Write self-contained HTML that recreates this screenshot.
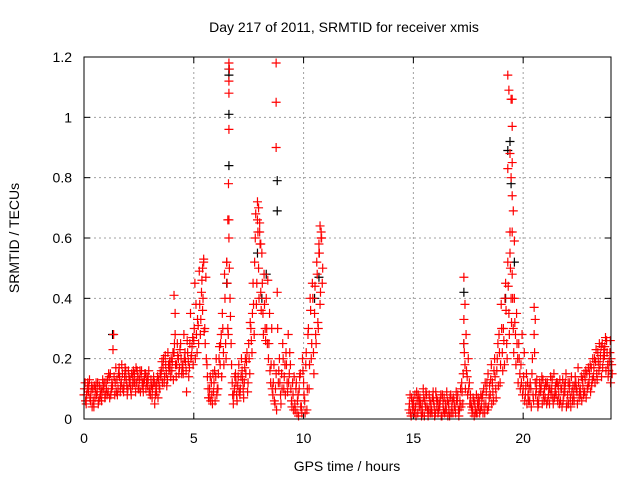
<!DOCTYPE html>
<html><head><meta charset="utf-8"><style>
html,body{margin:0;padding:0;background:#fff;}
svg{display:block;font-family:"Liberation Sans",sans-serif;}
</style></head><body>
<svg id="chart" width="640" height="480" xmlns="http://www.w3.org/2000/svg">
<rect width="640" height="480" fill="#fff"/>
<text x="344" y="32" font-size="14" text-anchor="middle" fill="#000">Day 217 of 2011, SRMTID for receiver xmis</text>
<text x="347" y="471" font-size="14" text-anchor="middle" fill="#000">GPS time / hours</text>
<text x="0" y="0" font-size="14" text-anchor="middle" fill="#000" transform="translate(19,238) rotate(-90)">SRMTID / TECUs</text>
<g id="grid"></g>
<g id="ticks"></g>
<g id="black"></g>
<g id="red"></g>
<rect x="84" y="57" width="527" height="362" fill="none" stroke="#000" stroke-width="1"/>
</svg>
<script>
const xTicks = [0, 5, 10, 15, 20];
const yTicks = [0, 0.2, 0.4, 0.6, 0.8, 1, 1.2];
const yTickLabels = ["0", "0.2", "0.4", "0.6", "0.8", "1", "1.2"];
const redRows = [
[0.0,.08,.12],[0.1,.05,.10],[0.2,.09,.13],[0.3,.06,.11],[0.4,.10,.04],[0.5,.07,.12],[0.6,.09,.05],[0.7,.11,.08],[0.8,.06,.13],[0.9,.10,.07],
[1.0,.12,.08],[1.1,.09,.14],[1.2,.15,.10],[1.3,.11,.28],[1.4,.08,.17],[1.5,.13,.10],[1.6,.17,.09],[1.7,.12,.15],[1.8,.09,.14],[1.9,.16,.11],
[2.0,.10,.14],[2.1,.13,.08],[2.2,.11,.16],[2.3,.15,.09],[2.4,.12,.14],[2.5,.10,.16],[2.6,.14,.11],[2.7,.09,.13],[2.8,.15,.12],[2.9,.11,.16],
[3.0,.10,.13],[3.1,.07,.12],[3.2,.12,.08],[3.3,.09,.14],[3.4,.13,.10],[3.5,.14,.19],[3.6,.17,.12],[3.7,.21,.15],[3.8,.13,.18],[3.9,.19,.14],
[4.0,.16,.22],[4.1,.22,.28],[4.2,.14,.25],[4.3,.20,.17],[4.4,.25,.15],[4.5,.18,.28],[4.6,.22,.16],[4.7,.26,.19],[4.8,.17,.35],[4.9,.21,.27],
[5.0,.26,.45],[5.1,.38,.22],[5.2,.31,.49],[5.3,.28,.42],[5.4,.36,.52],[5.5,.30,.47],[5.6,.18,.10],[5.7,.07,.14],[5.8,.12,.05],[5.9,.09,.16],
[6.0,.14,.08],[6.1,.10,.20],[6.2,.18,.28],[6.3,.35,.22],[6.4,.48,.25],[6.5,.52,.30],[6.6,.66,.40],[6.7,.25,.12],[6.8,.05,.10],[6.9,.15,.08],
[7.0,.11,.18],[7.1,.08,.14],[7.2,.16,.10],[7.3,.12,.20],[7.4,.19,.09],[7.5,.25,.15],[7.6,.30,.22],[7.7,.45,.28],[7.8,.60,.38],[7.9,.72,.50],
[8.0,.65,.42],[8.1,.55,.35],[8.2,.48,.30],[8.3,.40,.25],[8.4,.20,.35],[8.5,.12,.30],[8.6,.08,.18],[8.7,.05,.15],[8.8,.42,.12],[8.9,.20,.08],
[9.0,.15,.25],[9.1,.10,.18],[9.2,.22,.12],[9.3,.28,.15],[9.4,.18,.06],[9.5,.12,.03],[9.6,.05,.10],[9.7,.02,.08],[9.8,.10,.15],[9.9,.04,.20],
[10.0,.12,.06],[10.1,.18,.03],[10.2,.28,.10],[10.3,.40,.20],[10.4,.45,.22],[10.5,.35,.28],[10.6,.52,.32],[10.7,.58,.38],[10.8,.62,.45],
[14.8,.03,.08],[14.9,.01,.05],[15.0,.06,.02],[15.1,.04,.09],[15.2,.02,.06],[15.3,.07,.03],[15.4,.05,.10],[15.5,.01,.04],[15.6,.08,.03],[15.7,.03,.06],
[15.8,.05,.02],[15.9,.09,.04],[16.0,.02,.07],[16.1,.06,.03],[16.2,.04,.08],[16.3,.01,.05],[16.4,.07,.03],[16.5,.03,.06],[16.6,.05,.01],[16.7,.08,.04],
[16.8,.02,.06],[16.9,.04,.09],[17.0,.06,.03],[17.1,.03,.10],[17.2,.12,.05],[17.3,.25,.18],[17.4,.28,.14],[17.5,.20,.12],[17.6,.08,.04],[17.7,.03,.06],
[17.8,.05,.02],[17.9,.02,.07],[18.0,.06,.03],[18.1,.04,.08],[18.2,.10,.02],[18.3,.05,.12],[18.4,.15,.07],[18.5,.08,.18],[18.6,.12,.06],[18.7,.20,.10],
[18.8,.16,.25],[18.9,.28,.12],[19.0,.38,.22],[19.1,.30,.18],[19.2,.45,.25],[19.3,.52,.35],[19.4,.62,.40],[19.5,.48,.30],[19.6,.40,.28],[19.7,.35,.20],
[19.8,.25,.15],[19.9,.18,.28],[20.0,.10,.22],[20.1,.08,.15],[20.2,.12,.06],[20.3,.06,.10],[20.4,.15,.08],[20.5,.28,.12],[20.6,.10,.06],[20.7,.05,.12],
[20.8,.09,.14],[20.9,.13,.06],[21.0,.07,.11],[21.1,.12,.08],[21.2,.05,.14],[21.3,.10,.07],[21.4,.15,.09],[21.5,.08,.12],[21.6,.11,.05],[21.7,.06,.10],
[21.8,.13,.08],[21.9,.09,.15],[22.0,.05,.12],[22.1,.10,.07],[22.2,.14,.06],[22.3,.08,.11],[22.4,.12,.09],[22.5,.17,.07],[22.6,.10,.14],[22.7,.13,.08],
[22.8,.09,.16],[22.9,.15,.11],[23.0,.12,.18],[23.1,.17,.13],[23.2,.14,.20],[23.3,.19,.15],[23.4,.22,.16],[23.5,.18,.24],[23.6,.25,.20],[23.7,.21,.27],
[23.8,.26,.18],[23.9,.16,.22],[24.0,.20,.15]
];
const redExtra = [
[0.02,.10,.06],[0.12,.08,.12],[0.22,.11,.07],[0.32,.09,.04],[0.42,.06,.11],[0.52,.10,.08],[0.62,.12,.06],[0.72,.07,.10],[0.82,.09,.11],[0.92,.12,.08],
[1.02,.10,.13],[1.12,.15,.07],[1.22,.08,.12],[1.32,.23,.14],[1.42,.12,.09],[1.52,.08,.15],[1.62,.14,.11],[1.72,.18,.10],[1.82,.11,.17],[1.92,.13,.08],
[2.02,.16,.12],[2.12,.10,.15],[2.22,.14,.12],[2.32,.12,.17],[2.42,.16,.10],[2.52,.13,.09],[2.62,.16,.12],[2.72,.12,.15],[2.82,.10,.14],[2.92,.13,.09],
[3.02,.08,.11],[3.12,.10,.14],[3.22,.05,.11],[3.32,.12,.07],[3.42,.11,.15],[3.52,.16,.12],[3.62,.20,.14],[3.72,.18,.11],[3.82,.22,.16],[3.92,.17,.20],
[4.02,.19,.13],[4.12,.25,.18],[4.22,.18,.21],[4.32,.15,.23],[4.42,.20,.17],[4.52,.15,.20],[4.62,.19,.09],[4.72,.22,.14],[4.82,.25,.20],[4.92,.24,.18],
[5.02,.30,.20],[5.12,.28,.33],[5.22,.25,.38],[5.32,.33,.46],[5.42,.40,.29],[5.52,.25,.20],[5.62,.14,.07],[5.72,.10,.06],[5.82,.08,.15],[5.92,.12,.06],
[6.02,.20,.10],[6.12,.15,.24],[6.22,.25,.14],[6.32,.30,.18],[6.42,.40,.20],[6.52,.45,.28],[6.62,.50,.34],[6.72,.18,.08],[6.82,.08,.14],[6.92,.12,.06],
[7.02,.14,.09],[7.12,.10,.20],[7.22,.13,.07],[7.32,.17,.15],[7.42,.22,.12],[7.52,.20,.32],[7.62,.26,.35],[7.72,.38,.52],[7.82,.68,.45],[7.92,.62,.40],
[8.02,.58,.36],[8.12,.45,.28],[8.22,.38,.26],[8.32,.30,.46],[8.42,.25,.16],[8.52,.18,.10],[8.62,.12,.06],[8.72,.10,.03],[8.82,.30,.16],[8.92,.12,.05],
[9.02,.10,.20],[9.12,.14,.08],[9.22,.18,.09],[9.32,.12,.22],[9.42,.10,.04],[9.52,.08,.14],[9.62,.03,.12],[9.72,.06,.01],[9.82,.14,.04],[9.92,.02,.16],
[10.02,.08,.02],[10.12,.22,.10],[10.22,.30,.18],[10.32,.36,.25],[10.42,.40,.15],[10.52,.44,.25],[10.62,.48,.30],[10.72,.55,.42],[10.82,.60,.50],
[14.82,.05,.02],[14.92,.07,.03],[15.02,.04,.08],[15.12,.01,.06],[15.22,.08,.04],[15.32,.05,.01],[15.42,.02,.07],[15.52,.06,.09],[15.62,.04,.01],[15.72,.08,.02],
[15.82,.03,.07],[15.92,.06,.01],[16.02,.09,.04],[16.12,.02,.05],[16.22,.06,.01],[16.32,.08,.03],[16.42,.02,.05],[16.52,.09,.01],[16.62,.03,.07],[16.72,.02,.06],
[16.82,.07,.04],[16.92,.02,.06],[17.02,.08,.01],[17.12,.06,.04],[17.22,.09,.15],[17.32,.22,.10],[17.42,.16,.08],[17.52,.10,.05],[17.62,.05,.02],[17.72,.07,.01],
[17.82,.03,.08],[17.92,.05,.04],[18.02,.02,.08],[18.12,.07,.02],[18.22,.05,.12],[18.32,.09,.03],[18.42,.04,.11],[18.52,.13,.05],[18.62,.09,.16],[18.72,.14,.07],
[18.82,.20,.11],[18.92,.22,.18],[19.02,.30,.16],[19.12,.26,.40],[19.22,.36,.20],[19.32,.44,.28],[19.42,.50,.32],[19.52,.40,.22],[19.62,.32,.18],[19.72,.25,.12],
[19.82,.20,.10],[19.92,.12,.08],[20.02,.14,.06],[20.12,.11,.05],[20.22,.08,.10],[20.32,.12,.04],[20.42,.20,.06],[20.52,.22,.08],[20.62,.13,.04],[20.72,.08,.10],
[20.82,.11,.05],[20.92,.08,.10],[21.02,.12,.05],[21.12,.06,.10],[21.22,.10,.08],[21.32,.13,.05],[21.42,.07,.11],[21.52,.12,.06],[21.62,.08,.13],[21.72,.10,.04],
[21.82,.06,.11],[21.92,.12,.04],[22.02,.08,.05],[22.12,.12,.04],[22.22,.09,.11],[22.32,.06,.14],[22.42,.10,.05],[22.52,.12,.09],[22.62,.08,.06],[22.72,.11,.15],
[22.82,.13,.07],[22.92,.10,.17],[23.02,.15,.09],[23.12,.11,.20],[23.22,.17,.12],[23.32,.23,.13],[23.42,.19,.25],[23.52,.21,.14],[23.62,.17,.23],[23.72,.24,.16],
[23.82,.22,.14],[23.92,.19,.26],[23.98,.12,.18]
];
const redSpikes = [
[6.6,1.18],[6.62,1.16],[6.6,1.12],[6.6,1.08],[6.6,0.96],[6.58,0.78],[6.55,0.66],[6.6,0.60],[6.5,0.52],
[8.75,1.18],[8.75,1.05],[8.75,0.90],[7.95,0.70],[8.0,0.62],[8.05,0.58],[7.9,0.66],
[19.3,1.14],[19.35,1.09],[19.45,1.06],[19.5,1.06],[19.5,0.97],[19.4,0.88],[19.3,0.83],[19.5,0.85],
[19.45,0.80],[19.5,0.74],[19.55,0.69],[19.5,0.62],[19.6,0.59],[19.4,0.55],
[17.3,0.47],[17.35,0.38],[17.3,0.33],[4.1,0.41],[4.15,0.35],[20.5,0.37],[20.55,0.33],
[10.75,0.64],[10.8,0.60],[10.7,0.55],[5.4,0.50],[5.45,0.53]
];
const blackRows = [
[6.6,1.16],[6.6,1.14],[6.6,1.01],[6.6,0.84],[8.8,0.79],[8.8,0.69],[19.3,0.89],[19.4,0.92],
[19.45,0.78],[1.3,0.28],[17.3,0.42],[10.7,0.47],[7.9,0.55],[8.3,0.48],[19.6,0.52],[6.5,0.45],
[19.2,0.40],[17.3,0.25],[8.1,0.40],[10.5,0.40]
];
const X0=84, X1=611, Y0=419, Y1=57;
function xs(t){return X0+(t/24)*(X1-X0);}
function ys(v){return Y0-(v/1.2)*(Y0-Y1);}
const NS="http://www.w3.org/2000/svg";
function mk(tag,attrs,parent){const e=document.createElementNS(NS,tag);for(const k in attrs)e.setAttribute(k,attrs[k]);parent.appendChild(e);return e;}
const grid=document.getElementById('grid'), ticks=document.getElementById('ticks');
xTicks.forEach(t=>{
  const x=xs(t);
  if(t>0){const g=mk('line',{x1:x,y1:Y0,x2:x,y2:Y1,stroke:'#a0a0a0','stroke-dasharray':'2,3'},grid);
  
  }
  const l=mk('text',{x:x,y:Y0+24,'font-size':14,'text-anchor':'middle'},ticks);l.textContent=t;
  
  
  mk('line',{x1:x,y1:Y0,x2:x,y2:Y0-6,stroke:'#000'},ticks);
  mk('line',{x1:x,y1:Y1,x2:x,y2:Y1+6,stroke:'#000'},ticks);
});
yTicks.forEach((v,i)=>{
  const y=ys(v);
  if(v>0&&v<1.2){const g=mk('line',{x1:X0,y1:y,x2:X1,y2:y,stroke:'#a0a0a0','stroke-dasharray':'2,3'},grid);
  
  }
  const l=mk('text',{x:X0-12,y:y+5,'font-size':14,'text-anchor':'end'},ticks);l.textContent=yTickLabels[i];
  
  
  mk('line',{x1:X0,y1:y,x2:X0+6,y2:y,stroke:'#000'},ticks);
  mk('line',{x1:X1,y1:y,x2:X1-6,y2:y,stroke:'#000'},ticks);
});
function plus(g,t,v,col){
  const x=xs(t),y=ys(v);
  const p=mk('path',{d:`M${x-4.5},${y}H${x+4.5}M${x},${y-4.5}V${y+4.5}`,stroke:col,'stroke-width':1.2,fill:'none'},g);
  
  
}
const blk=document.getElementById('black'), red=document.getElementById('red');
blackRows.forEach(r=>plus(blk,r[0],r[1],'#000'));
redRows.forEach(r=>{plus(red,r[0],r[1],'#f00');plus(red,r[0]+0.05,r[2],'#f00');});
redExtra.forEach(r=>{plus(red,r[0],r[1],'#f00');plus(red,r[0]+0.05,r[2],'#f00');});
redSpikes.forEach(r=>plus(red,r[0],r[1],'#f00'));
</script>
</body></html>
